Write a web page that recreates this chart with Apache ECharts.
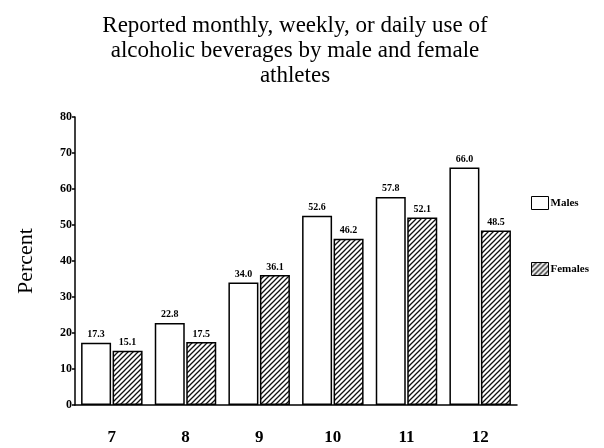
<!DOCTYPE html>
<html>
<head>
<meta charset="utf-8">
<script src="https://cdn.jsdelivr.net/npm/echarts@6/dist/echarts.min.js"></script>
<style>
  html, body { margin: 0; padding: 0; background: #fff; }
  #chart { width: 604px; height: 448px; }
</style>
</head>
<body>
<div id="chart"></div>
<script>
var ages = ['7', '8', '9', '10', '11', '12'];
var males = [17.3, 22.8, 34.0, 52.6, 57.8, 66.0];
var females = [15.1, 17.5, 36.1, 46.2, 52.1, 48.5];
var yTicks = [0, 10, 20, 30, 40, 50, 60, 70, 80];

var serif = '"Liberation Serif", "DejaVu Serif", serif';

// diagonal hatch for the female bars
function hatch() {
  var c = document.createElement('canvas');
  c.width = 5; c.height = 5;
  var g = c.getContext('2d');
  g.fillStyle = '#fff';
  g.fillRect(0, 0, 5, 5);
  g.strokeStyle = '#111';
  g.lineWidth = 1.3;
  g.beginPath();
  g.moveTo(0, 5); g.lineTo(5, 0);
  g.moveTo(-2.5, 2.5); g.lineTo(2.5, -2.5);
  g.moveTo(2.5, 7.5); g.lineTo(7.5, 2.5);
  g.stroke();
  return c;
}
var hatchFill = { image: hatch(), repeat: 'repeat' };

var chart = echarts.init(document.getElementById('chart'));
chart.setOption({
  animation: false,
  title: {
    text: 'Reported monthly, weekly, or daily use of\nalcoholic beverages by male and female\nathletes',
    left: 290,
    top: 8,
    textAlign: 'center',
    textStyle: { fontFamily: serif, fontSize: 23, fontWeight: 'normal', color: '#000', lineHeight: 25 }
  },
  legend: {
    orient: 'vertical',
    left: 526,
    top: 191,
    itemGap: 52,
    itemWidth: 17,
    itemHeight: 13,
    icon: 'rect',
    data: [
      { name: 'Males', itemStyle: { color: '#fff', borderColor: '#000', borderWidth: 1 } },
      { name: 'Females', itemStyle: { color: hatchFill, borderColor: '#000', borderWidth: 1 } }
    ],
    textStyle: { fontFamily: serif, fontSize: 11, fontWeight: 'bold', color: '#000', padding: [0, 0, 0, -3] }
  },
  grid: { left: 75, top: 117, width: 442, height: 288 },
  xAxis: {
    type: 'category',
    data: ages,
    axisLine: { lineStyle: { color: '#000', width: 1.5 } },
    axisTick: { show: false },
    axisLabel: { fontFamily: serif, fontSize: 17, fontWeight: 'bold', color: '#000', margin: 24 }
  },
  yAxis: {
    type: 'value',
    min: yTicks[0],
    max: yTicks[yTicks.length - 1],
    interval: 10,
    name: 'Percent',
    nameLocation: 'middle',
    nameGap: 38,
    nameTextStyle: { fontFamily: serif, fontSize: 22, color: '#000' },
    axisLine: { show: true, lineStyle: { color: '#000', width: 1.5 } },
    axisTick: { show: true, length: 3, lineStyle: { color: '#000', width: 1.5 } },
    splitLine: { show: false },
    axisLabel: { fontFamily: serif, fontSize: 12, fontWeight: 'bold', color: '#000', margin: 3 }
  },
  series: [
    {
      name: 'Males',
      type: 'bar',
      data: males,
      barWidth: 30,
      barGap: '5%',
      itemStyle: { color: '#fff', borderColor: '#000', borderWidth: 1.5 },
      label: {
        show: true, position: 'top', distance: 3,
        formatter: function (p) { return p.value.toFixed(1); },
        fontFamily: serif, fontSize: 10, fontWeight: 'bold', color: '#000'
      }
    },
    {
      name: 'Females',
      type: 'bar',
      data: females,
      barWidth: 30,
      itemStyle: { color: hatchFill, borderColor: '#000', borderWidth: 1.5 },
      label: {
        show: true, position: 'top', distance: 3,
        formatter: function (p) { return p.value.toFixed(1); },
        fontFamily: serif, fontSize: 10, fontWeight: 'bold', color: '#000'
      }
    }
  ]
});
</script>
</body>
</html>
